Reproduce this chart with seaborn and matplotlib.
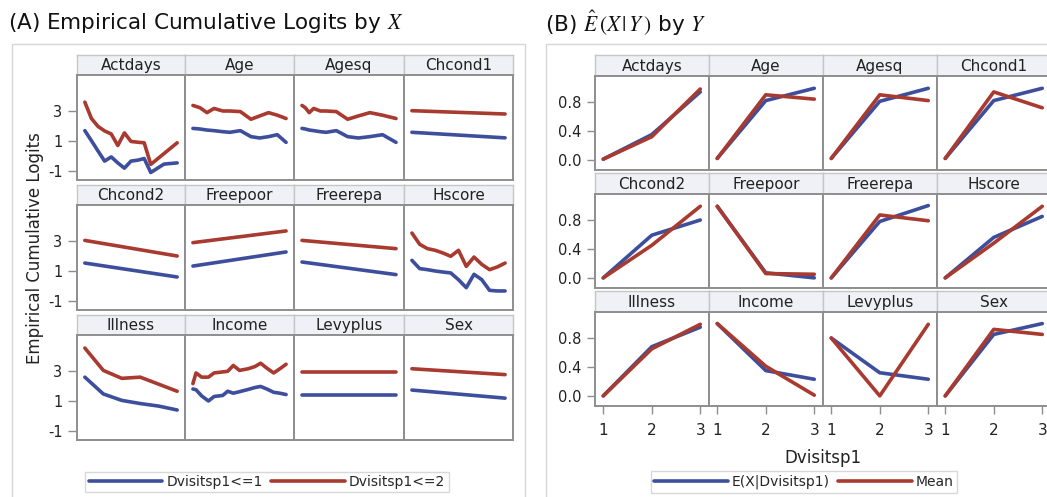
import numpy as np
import pandas as pd
import matplotlib
matplotlib.use("Agg")
import matplotlib.pyplot as plt
import seaborn as sns
from matplotlib.lines import Line2D
from matplotlib.patches import Rectangle

# ---------------- data ----------------
variables = ["Actdays", "Age", "Agesq", "Chcond1", "Chcond2", "Freepoor",
             "Freerepa", "Hscore", "Illness", "Income", "Levyplus", "Sex"]

# (A) empirical cumulative logits: x grid, logit(P(Y<=1)), logit(P(Y<=2))
actdays_x = [0, 1, 2, 3, 4, 5, 6, 7, 8, 9, 10, 12, 14]
actdays_le1 = [1.69, 1.02, 0.33, -0.34, -0.06, -0.46, -0.81, -0.34, -0.28, -0.17, -1.10, -0.54, -0.46]
actdays_le2 = [3.59, 2.50, 1.97, 1.67, 1.47, 0.70, 1.54, 0.97, 0.92, 0.88, -0.56, 0.16, 0.88]

age_x = [0.19, 0.23, 0.27, 0.31, 0.36, 0.40, 0.46, 0.52, 0.57, 0.62, 0.67, 0.72]
age_le1 = [1.84, 1.80, 1.73, 1.69, 1.62, 1.58, 1.69, 1.29, 1.20, 1.29, 1.42, 0.91]
age_le2 = [3.37, 3.22, 2.89, 3.17, 3.00, 3.00, 2.96, 2.45, 2.67, 2.89, 2.72, 2.50]

agesq_x = [0.036, 0.053, 0.073, 0.096, 0.130, 0.160, 0.212, 0.270, 0.325, 0.384, 0.449, 0.518]
agesq_le1 = [1.84, 1.80, 1.73, 1.69, 1.62, 1.58, 1.69, 1.29, 1.20, 1.29, 1.42, 0.91]
agesq_le2 = [3.37, 3.22, 2.89, 3.17, 3.00, 3.00, 2.96, 2.45, 2.67, 2.89, 2.72, 2.50]

binary_x = [0, 1]
chcond1_le1 = [1.58, 1.21]
chcond1_le2 = [3.02, 2.80]
chcond2_le1 = [1.53, 0.60]
chcond2_le2 = [3.04, 2.00]
freepoor_le1 = [1.33, 2.27]
freepoor_le2 = [2.89, 3.67]
freerepa_le1 = [1.60, 0.76]
freerepa_le2 = [3.04, 2.49]

hscore_x = [0, 1, 2, 3, 4, 5, 6, 7, 8, 9, 10, 11, 12]
hscore_le1 = [1.71, 1.16, 1.09, 1.00, 0.93, 0.87, 0.42, -0.11, 0.78, 0.42, -0.29, -0.33, -0.33]
hscore_le2 = [3.53, 2.78, 2.49, 2.38, 2.20, 1.98, 2.38, 1.31, 1.93, 1.44, 1.09, 1.27, 1.53]

illness_x = [0, 1, 2, 3, 4, 5]
illness_le1 = [2.59, 1.47, 1.04, 0.83, 0.66, 0.40]
illness_le2 = [4.53, 3.04, 2.51, 2.59, 2.12, 1.65]

income_x = [0.0, 0.05, 0.14, 0.25, 0.34, 0.48, 0.56, 0.65, 0.75, 0.89, 1.0, 1.09, 1.19, 1.3, 1.4, 1.5]
income_le1 = [1.80, 1.75, 1.34, 1.00, 1.30, 1.37, 1.65, 1.52, 1.62, 1.77, 1.90, 1.97, 1.80, 1.58, 1.52, 1.43]
income_le2 = [2.16, 2.87, 2.59, 2.59, 2.87, 2.94, 2.98, 3.37, 3.04, 3.15, 3.30, 3.52, 3.19, 2.87, 3.15, 3.45]

levyplus_le1 = [1.41, 1.41]
levyplus_le2 = [2.92, 2.92]
sex_le1 = [1.73, 1.19]
sex_le2 = [3.15, 2.76]

# (B) E(X|Y) and mean by Dvisitsp1
dvisit = [1, 2, 3]
ex_actdays = [0.01, 0.35, 0.94];  mean_actdays = [0.01, 0.32, 0.98]
ex_age = [0.02, 0.82, 0.99];      mean_age = [0.02, 0.90, 0.84]
ex_agesq = [0.02, 0.81, 0.99];    mean_agesq = [0.02, 0.90, 0.82]
ex_chcond1 = [0.02, 0.82, 0.99];  mean_chcond1 = [0.02, 0.94, 0.72]
ex_chcond2 = [0.00, 0.59, 0.80];  mean_chcond2 = [0.00, 0.45, 0.99]
ex_freepoor = [0.99, 0.07, 0.00]; mean_freepoor = [0.99, 0.06, 0.05]
ex_freerepa = [0.00, 0.78, 1.00]; mean_freerepa = [0.00, 0.87, 0.79]
ex_hscore = [0.00, 0.56, 0.85];   mean_hscore = [0.00, 0.48, 0.99]
ex_illness = [0.00, 0.68, 0.95];  mean_illness = [0.00, 0.65, 0.99]
ex_income = [1.00, 0.35, 0.23];   mean_income = [1.00, 0.41, 0.01]
ex_levyplus = [0.80, 0.32, 0.23]; mean_levyplus = [0.80, 0.00, 0.99]
ex_sex = [0.00, 0.85, 1.00];      mean_sex = [0.00, 0.92, 0.85]

panel_a = {
    "Actdays": (actdays_x, actdays_le1, actdays_le2),
    "Age": (age_x, age_le1, age_le2),
    "Agesq": (agesq_x, agesq_le1, agesq_le2),
    "Chcond1": (binary_x, chcond1_le1, chcond1_le2),
    "Chcond2": (binary_x, chcond2_le1, chcond2_le2),
    "Freepoor": (binary_x, freepoor_le1, freepoor_le2),
    "Freerepa": (binary_x, freerepa_le1, freerepa_le2),
    "Hscore": (hscore_x, hscore_le1, hscore_le2),
    "Illness": (illness_x, illness_le1, illness_le2),
    "Income": (income_x, income_le1, income_le2),
    "Levyplus": (binary_x, levyplus_le1, levyplus_le2),
    "Sex": (binary_x, sex_le1, sex_le2),
}
panel_b = {
    "Actdays": (ex_actdays, mean_actdays), "Age": (ex_age, mean_age),
    "Agesq": (ex_agesq, mean_agesq), "Chcond1": (ex_chcond1, mean_chcond1),
    "Chcond2": (ex_chcond2, mean_chcond2), "Freepoor": (ex_freepoor, mean_freepoor),
    "Freerepa": (ex_freerepa, mean_freerepa), "Hscore": (ex_hscore, mean_hscore),
    "Illness": (ex_illness, mean_illness), "Income": (ex_income, mean_income),
    "Levyplus": (ex_levyplus, mean_levyplus), "Sex": (ex_sex, mean_sex),
}

series_a = ["Dvisitsp1<=1", "Dvisitsp1<=2"]
series_b = ["E(X|Dvisitsp1)", "Mean"]
BLUE, RED = "#3d4f9c", "#a83a30"

# ---------------- style ----------------
sns.set_style("white")
plt.rcParams["font.family"] = ["DejaVu Sans"]
plt.rcParams["mathtext.fontset"] = "stix"

W, H = 1047, 497
fig = plt.figure(figsize=(W / 100, H / 100), dpi=100)


def fbox(x0, y0, x1, y1):
    return [x0 / W, 1 - y1 / H, (x1 - x0) / W, (y1 - y0) / H]


SPINE = "#8e8e8e"
STRIP_FC = "#eff1f6"
STRIP_EC = "#c6c6c6"
TXT = "#222222"

# outer frames
for x0, x1 in [(12, 525), (546, 1070)]:
    fig.patches.append(Rectangle((x0 / W, 1 - 520 / H), (x1 - x0) / W, (520 - 44) / H,
                                 transform=fig.transFigure, fill=False,
                                 edgecolor="#d6d6d6", lw=1.0))


def strip(box, label):
    sax = fig.add_axes(box)
    sax.set_facecolor(STRIP_FC)
    sax.set_xticks([]); sax.set_yticks([])
    for s in sax.spines.values():
        s.set_color(STRIP_EC); s.set_linewidth(1.0)
    sax.text(0.5, 0.47, label, ha="center", va="center", fontsize=11,
             color=TXT, transform=sax.transAxes)


def style_axes(ax):
    for s in ax.spines.values():
        s.set_color(SPINE); s.set_linewidth(1.4)
    ax.set_xlabel(""); ax.set_ylabel("")
    ax.tick_params(colors=SPINE, labelcolor=TXT, labelsize=10.5, width=1.0,
                   left=True, bottom=True)


# ---------------- panel A ----------------
cols_a = [77, 185, 294, 404, 513]
rows_a = [55, 185, 315]
for i, var in enumerate(variables):
    r, c = divmod(i, 4)
    x0, x1 = cols_a[c], cols_a[c + 1]
    top = rows_a[r]
    strip(fbox(x0, top, x1, top + 20), var)
    ax = fig.add_axes(fbox(x0, top + 20, x1, top + 125))
    xs, le1, le2 = panel_a[var]
    df = pd.DataFrame({"x": list(xs) * 2, "logit": list(le1) + list(le2),
                       "series": [series_a[0]] * len(xs) + [series_a[1]] * len(xs)})
    sns.lineplot(data=df, x="x", y="logit", hue="series", hue_order=series_a,
                 palette=[BLUE, RED], linewidth=2.6, legend=False,
                 estimator=None, sort=False, ax=ax)
    span = max(xs) - min(xs)
    ax.set_xlim(min(xs) - 0.085 * span, max(xs) + 0.085 * span)
    ax.set_ylim(-1.6, 5.4)
    style_axes(ax)
    ax.set_xticks([])
    if c == 0:
        ax.set_yticks([-1, 1, 3])
        ax.set_yticklabels(["-1", "1", "3"])
        ax.tick_params(axis="y", length=6.5, pad=4)
    else:
        ax.set_yticks([])

fig.text(35 / W, 1 - 248 / H, "Empirical Cumulative Logits", rotation=90,
         ha="center", va="center", fontsize=12, color=TXT)

handles_a = [Line2D([], [], color=BLUE, lw=2.6), Line2D([], [], color=RED, lw=2.6)]
leg = fig.legend(handles_a, series_a, loc="center", bbox_to_anchor=(267 / W, 1 - 482 / H),
                 ncol=2, frameon=True, fancybox=False, handlelength=5.3,
                 handletextpad=0.3, columnspacing=0.6, borderpad=0.25,
                 fontsize=10, edgecolor="#cfcfcf")
leg.get_frame().set_linewidth(1.0)

# ---------------- panel B ----------------
cols_b = [595, 709, 823, 937, 1051]
rows_b = [55, 173, 291]
for i, var in enumerate(variables):
    r, c = divmod(i, 4)
    x0, x1 = cols_b[c], cols_b[c + 1]
    top = rows_b[r]
    strip(fbox(x0, top, x1, top + 21), var)
    ax = fig.add_axes(fbox(x0, top + 21, x1, top + 115))
    ex, mn = panel_b[var]
    df = pd.DataFrame({"Dvisitsp1": dvisit * 2, "value": list(ex) + list(mn),
                       "series": [series_b[0]] * 3 + [series_b[1]] * 3})
    sns.lineplot(data=df, x="Dvisitsp1", y="value", hue="series", hue_order=series_b,
                 palette=[BLUE, RED], linewidth=2.6, legend=False,
                 estimator=None, sort=False, ax=ax)
    ax.set_xlim(0.83, 3.18)
    ax.set_ylim(-0.14, 1.16)
    style_axes(ax)
    if c == 0:
        ax.set_yticks([0.0, 0.4, 0.8])
        ax.set_yticklabels(["0.0", "0.4", "0.8"])
        ax.tick_params(axis="y", length=6, pad=4)
    else:
        ax.set_yticks([])
    if r == 2:
        ax.set_xticks([1, 2, 3])
        ax.set_xticklabels(["1", "2", "3"])
        ax.tick_params(axis="x", length=6, pad=6, labelsize=11)
    else:
        ax.set_xticks([])

fig.text(823 / W, 1 - 458 / H, "Dvisitsp1", ha="center", va="center",
         fontsize=12, color=TXT)

handles_b = [Line2D([], [], color=BLUE, lw=2.6), Line2D([], [], color=RED, lw=2.6)]
leg2 = fig.legend(handles_b, series_b, loc="center", bbox_to_anchor=(804 / W, 1 - 482 / H),
                  ncol=2, frameon=True, fancybox=False, handlelength=5.3,
                  handletextpad=0.3, columnspacing=0.6, borderpad=0.25,
                  fontsize=10, edgecolor="#cfcfcf")
leg2.get_frame().set_linewidth(1.0)

# ---------------- titles ----------------
fig.text(8 / W, 1 - 23 / H, r"(A) Empirical Cumulative Logits by $X$",
         ha="left", va="center", fontsize=15.5, color="#111111")
fig.text(545 / W, 1 - 23 / H, r"(B) $\hat{E}\,(X\,|\,Y\,)$ by $Y$",
         ha="left", va="center", fontsize=15.5, color="#111111")

fig.savefig("out.png", dpi=100)
